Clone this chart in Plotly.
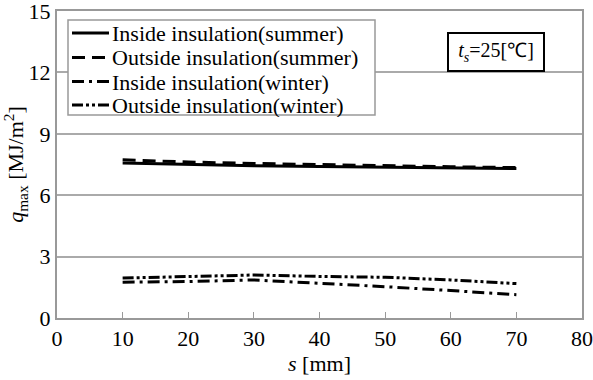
import plotly.graph_objects as go

s_mm = [10, 20, 30, 40, 50, 60, 70]
inside_summer = [7.57, 7.50, 7.44, 7.40, 7.36, 7.33, 7.30]
outside_summer = [7.73, 7.62, 7.55, 7.49, 7.44, 7.39, 7.35]
inside_winter = [1.75, 1.78, 1.86, 1.70, 1.53, 1.34, 1.14]
outside_winter = [1.95, 2.02, 2.10, 2.03, 1.99, 1.86, 1.68]

names = ["Inside insulation(summer)", "Outside insulation(summer)",
         "Inside insulation(winter)", "Outside insulation(winter)"]
series = [inside_summer, outside_summer, inside_winter, outside_winter]
dashes = ["solid", "13px,7px", "12px,5px,3px,5px", "11px,3px,3px,3px,3px,3px"]

x_ticks = [0, 10, 20, 30, 40, 50, 60, 70, 80]
y_ticks = [0, 3, 6, 9, 12, 15]

FONT = "Liberation Serif, Times New Roman, serif"

# plot area in pixels (layout only)
L, R, T, B = 57, 582, 11, 318
def px(xp):
    return (xp - L) / (R - L)
def py(yp):
    return (B - yp) / (B - T)

fig = go.Figure()
for n, y, d in zip(names, series, dashes):
    fig.add_trace(go.Scatter(x=s_mm, y=y, mode="lines", name=n,
                             line=dict(color="black", width=3, dash=d)))

# legend drawn as a framed box with line samples and texts
shapes = [dict(type="rect", xref="paper", yref="paper",
               x0=px(68), x1=px(375), y0=py(115), y1=py(20),
               line=dict(color="#999999", width=1.5), fillcolor="white",
               layer="above")]
annotations = []
row_y = [33, 57.5, 81.5, 105]
for n, d, ry in zip(names, dashes, row_y):
    shapes.append(dict(type="line", xref="paper", yref="paper",
                       x0=px(72), x1=px(109), y0=py(ry), y1=py(ry),
                       line=dict(color="black", width=3, dash=d),
                       layer="above"))
    annotations.append(dict(x=px(111), y=py(ry), xref="paper", yref="paper",
                            xanchor="left", yanchor="middle", text=n,
                            showarrow=False, height=24, borderpad=0,
                            font=dict(family=FONT, size=22, color="black")))

annotations.append(dict(x=px(496), y=py(52), xref="paper", yref="paper",
                        xanchor="center", yanchor="middle",
                        text="<i>t<sub>s</sub></i>=25[℃]", showarrow=False,
                        font=dict(family=FONT, size=20, color="black"),
                        width=90, height=32,
                        bordercolor="black", borderwidth=2, borderpad=2,
                        bgcolor="white"))

fig.update_layout(
    width=593, height=380,
    margin=dict(l=L, r=593 - R, t=T, b=380 - B),
    paper_bgcolor="white", plot_bgcolor="white",
    font=dict(family=FONT, color="black", size=22),
    showlegend=False,
    xaxis=dict(range=[0, 80], tickvals=x_ticks, showgrid=False, automargin=False,
               ticklabeloverflow="allow",
               showline=True, linecolor="#999999", linewidth=2, mirror=True,
               ticks="inside", ticklen=6, tickcolor="#999999",
               zeroline=False, tickfont=dict(family=FONT, size=22),
               title=dict(text="<i>s</i> [mm]", font=dict(family=FONT, size=22), standoff=4)),
    yaxis=dict(range=[0, 15], tickvals=y_ticks, showgrid=True, automargin=False,
               ticklabeloverflow="allow",
               gridcolor="#aaaaaa", gridwidth=2,
               showline=True, linecolor="#999999", linewidth=2, mirror=True,
               ticks="", zeroline=False, tickfont=dict(family=FONT, size=22),
               title=dict(text="<i>q</i><sub>max</sub> [MJ/m<sup>2</sup>]",
                          font=dict(family=FONT, size=22), standoff=4)),
    shapes=shapes,
    annotations=annotations,
)

fig.write_html("out.html")
